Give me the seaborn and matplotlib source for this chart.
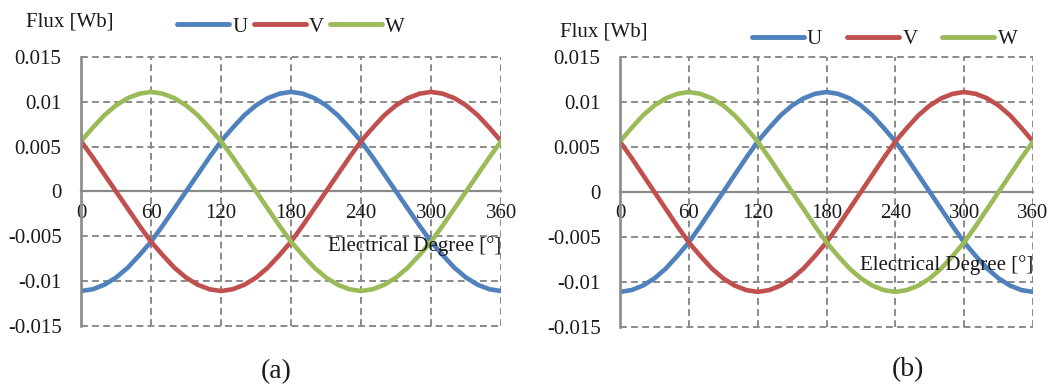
import matplotlib
matplotlib.use("Agg")
import matplotlib.pyplot as plt
import seaborn as sns
import pandas as pd

degrees = list(range(0, 361, 10))
flux_u = [-0.0111, -0.0109, -0.0104, -0.0096, -0.0085, -0.0071, -0.0056, -0.0038, -0.0019, 0.0,
          0.0019, 0.0038, 0.0056, 0.0071, 0.0085, 0.0096, 0.0104, 0.0109, 0.0111, 0.0109,
          0.0104, 0.0096, 0.0085, 0.0071, 0.0056, 0.0038, 0.0019, 0.0, -0.0019, -0.0038,
          -0.0056, -0.0071, -0.0085, -0.0096, -0.0104, -0.0109, -0.0111]
flux_v = [0.0056, 0.0038, 0.0019, 0.0, -0.0019, -0.0038, -0.0056, -0.0071, -0.0085, -0.0096,
          -0.0104, -0.0109, -0.0111, -0.0109, -0.0104, -0.0096, -0.0085, -0.0071, -0.0056, -0.0038,
          -0.0019, 0.0, 0.0019, 0.0038, 0.0056, 0.0071, 0.0085, 0.0096, 0.0104, 0.0109,
          0.0111, 0.0109, 0.0104, 0.0096, 0.0085, 0.0071, 0.0056]
flux_w = [0.0056, 0.0071, 0.0085, 0.0096, 0.0104, 0.0109, 0.0111, 0.0109, 0.0104, 0.0096,
          0.0085, 0.0071, 0.0056, 0.0038, 0.0019, 0.0, -0.0019, -0.0038, -0.0056, -0.0071,
          -0.0085, -0.0096, -0.0104, -0.0109, -0.0111, -0.0109, -0.0104, -0.0096, -0.0085, -0.0071,
          -0.0056, -0.0038, -0.0019, 0.0, 0.0019, 0.0038, 0.0056]
series_names = ["U", "V", "W"]
series_colors = ["#4F81BD", "#C0504D", "#9BBB59"]
x_ticks = [0, 60, 120, 180, 240, 300, 360]
y_ticks = [-0.015, -0.01, -0.005, 0, 0.005, 0.01, 0.015]
y_tick_labels = ["-0.015", "-0.01", "-0.005", "0", "0.005", "0.01", "0.015"]
panel_labels = ["(a)", "(b)"]

df = pd.DataFrame({
    "deg": degrees * 3,
    "flux": flux_u + flux_v + flux_w,
    "phase": ["U"] * len(degrees) + ["V"] * len(degrees) + ["W"] * len(degrees),
})

sns.set_style("white")
plt.rcParams["font.family"] = ["Liberation Serif", "DejaVu Serif"]
txt = "#1a1a1a"
gridc = "#8a8a8a"

fig = plt.figure(figsize=(10.58, 3.85), dpi=100)
axes_rects = [[0.0766, 0.1532, 0.397, 0.699], [0.586, 0.1506, 0.3904, 0.7016]]
xlabel_y = [-0.0061, -0.0081]
flux_pos = [(0.066, 0.943), (0.571, 0.917)]
legend_pos = [(0.275, 0.93), (0.836, 0.898)]
legend_colsp = [0.3, 1.2]
panel_pos = [(0.261, 0.036), (0.858, 0.041)]

for i in range(2):
    ax = fig.add_axes(axes_rects[i])
    sns.lineplot(data=df, x="deg", y="flux", hue="phase", hue_order=series_names,
                 palette=series_colors, linewidth=3.3, ax=ax, legend=False)
    ax.set_xlim(0, 360)
    ax.set_ylim(-0.015, 0.015)
    ax.set_xticks(x_ticks)
    ax.set_yticks(y_ticks)
    ax.set_yticklabels(y_tick_labels)
    ax.set_xlabel("")
    ax.set_ylabel("")
    ax.grid(True, ls=(0, (3.5, 2.2)), color=gridc, lw=1.4)
    for gl in ax.get_xgridlines() + ax.get_ygridlines():
        gl.set_clip_on(False)
    for s in ["top", "right"]:
        ax.spines[s].set_visible(False)
    ax.spines["bottom"].set_position(("data", 0))
    ax.spines["bottom"].set_color(gridc)
    ax.spines["bottom"].set_linewidth(1.6)
    ax.spines["left"].set_color(gridc)
    ax.spines["left"].set_linewidth(1.9)
    ax.spines["bottom"].set_zorder(0.5)
    ax.tick_params(axis="y", labelsize=15, colors=txt, pad=14, length=0)
    ax.tick_params(axis="x", labelsize=15, colors=txt, pad=9, length=0)
    ax.set_axisbelow(True)
    ax.text(360, xlabel_y[i], "Electrical Degree [°]", ha="right", va="center",
            fontsize=15, color=txt)
    fig.text(flux_pos[i][0], flux_pos[i][1], "Flux [Wb]", ha="center", va="center",
             fontsize=15, color=txt)
    handles = [plt.Line2D([], [], color=c, lw=3.5, solid_capstyle="round") for c in series_colors]
    fig.legend(handles, series_names, loc="center", bbox_to_anchor=legend_pos[i], ncol=3,
               frameon=False, fontsize=15, handlelength=2.5, handletextpad=0.15,
               columnspacing=legend_colsp[i], labelcolor=txt)
    fig.text(panel_pos[i][0], panel_pos[i][1], panel_labels[i], ha="center", va="center",
             fontsize=20, color=txt)

fig.savefig("out.png", dpi=100)
